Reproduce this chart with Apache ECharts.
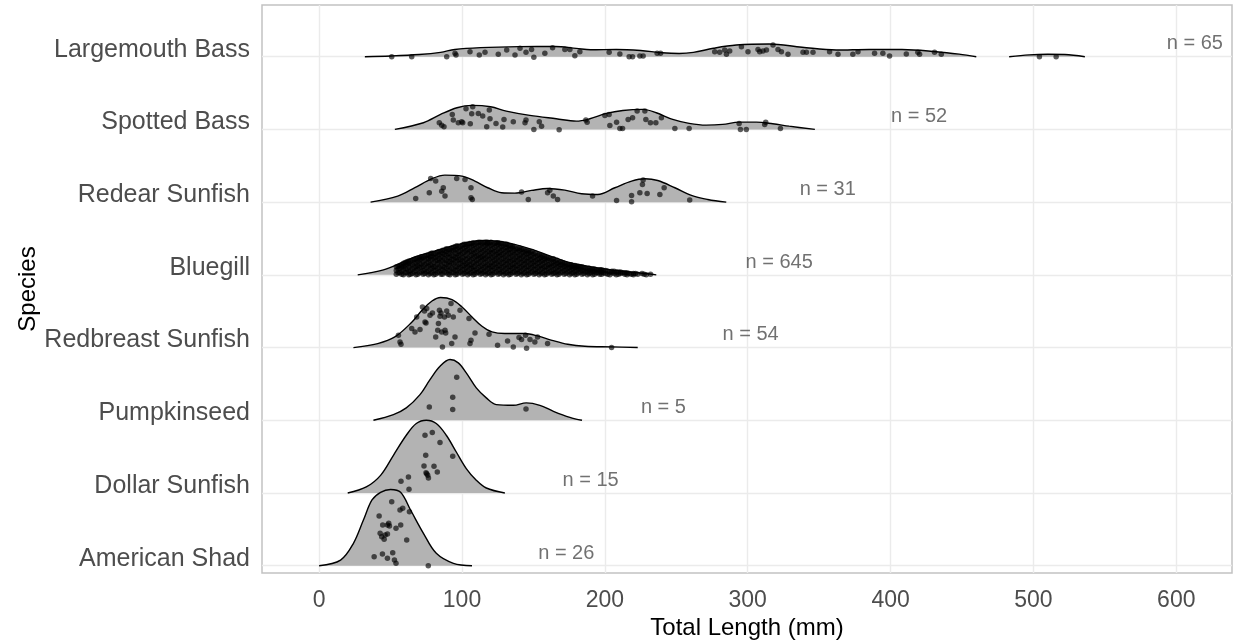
<!DOCTYPE html>
<html>
<head>
<meta charset="utf-8">
<title>Total Length by Species</title>
<script src="https://cdn.jsdelivr.net/npm/echarts@6/dist/echarts.min.js"></script>
<style>
  html, body { margin: 0; padding: 0; background: #fff; }
  #chart { width: 1238px; height: 642px; }
</style>
</head>
<body>
<div id="chart"></div>
<script>
// species, bottom row (1) to top row (8)
const species = ['American Shad', 'Dollar Sunfish', 'Pumpkinseed', 'Redbreast Sunfish',
                 'Bluegill', 'Redear Sunfish', 'Spotted Bass', 'Largemouth Bass'];
const lengthTicks = [0, 100, 200, 300, 400, 500, 600];
const rowTicks = [1, 2, 3, 4, 5, 6, 7, 8];
const countLabels = ['n = 26', 'n = 15', 'n = 5', 'n = 54', 'n = 645', 'n = 31', 'n = 52', 'n = 65'];
const countLabelX = [173, 190, 241, 302, 322, 356, 420, 613];

// density ridges: [total length, ridge height in rows]
const shadCurve = [[0,0],[15,0.078],[24,0.308],[31,0.628],[37,0.904],[43,1.01],[50,1.048],
  [57,1.01],[64,0.766],[73,0.446],[82,0.17],[94,0.033],[107,0]];
const dollarCurve = [[20,0],[33,0.083],[43,0.243],[52,0.519],[61,0.794],[68,0.955],[75,1.0],
  [82,0.955],[89,0.794],[96,0.564],[103,0.336],[110,0.175],[117,0.069],[130,0]];
const pumpkinCurve = [[38,0],[52,0.078],[61,0.17],[70.6,0.353],[77.6,0.56],[84.6,0.743],[91.6,0.835],
  [97.4,0.79],[103,0.652],[110,0.446],[117,0.308],[124,0.216],[136,0.206],[145,0.239],
  [154.5,0.206],[164,0.124],[175.5,0.041],[184,0]];
const redbreastCurve = [[24,0],[41,0.055],[53,0.146],[65,0.352],[72,0.513],[79,0.64],[85,0.688],
  [93,0.66],[100,0.558],[107,0.421],[114,0.293],[121,0.215],[130,0.193],[144,0.193],[153,0.16],
  [163,0.1],[174,0.045],[186,0.018],[205,0.01],[223,0]];
const bluegillCurve = [[27,0],[45,0.069],[57,0.161],[68,0.252],[80,0.321],[92,0.39],[103,0.444],
  [115,0.472],[126.6,0.458],[138,0.413],[150,0.344],[161.5,0.261],[173,0.183],[184.6,0.128],
  [196.5,0.092],[208,0.059],[222,0.032],[236,0]];
const redearCurve = [[36,0],[55,0.083],[67,0.198],[79,0.322],[88,0.371],[100,0.358],[109,0.289],
  [118,0.198],[127.7,0.129],[137,0.124],[148.7,0.161],[160,0.188],[172,0.165],[183.7,0.116],
  [195,0.106],[207,0.198],[218.7,0.289],[228,0.322],[237,0.298],[249,0.198],[260.6,0.092],
  [272,0.037],[285,0]];
const spottedCurve = [[53,0],[73,0.092],[85,0.206],[96.5,0.298],[107,0.33],[120,0.312],[131,0.252],
  [147.5,0.193],[166,0.147],[180,0.114],[189.5,0.147],[201,0.22],[212.6,0.261],[226.6,0.275],
  [236,0.229],[247.5,0.138],[259,0.083],[271,0.059],[282.5,0.069],[294,0.1],[306,0.1],
  [317.5,0.078],[329,0.045],[347,0]];
const largemouthCurve = [[32,0],[50,0.01],[70,0.03],[85,0.06],[95,0.1],[113,0.125],[140,0.138],
  [165,0.14],[180,0.115],[190,0.095],[208,0.1],[225,0.085],[240,0.055],[252,0.045],[262,0.06],
  [276,0.116],[292,0.16],[315,0.175],[338,0.13],[362,0.092],[385,0.1],[408,0.1],[432,0.069],
  [448,0.035],[460,0],[472,null],[483,0],[497,0.025],[510,0.033],[522,0.03],[536,0]];

// jittered fish: [total length, offset above the row baseline]
const shadPoints = [[50.8,0.88],[56.6,0.766],[58.5,0.789],[63.2,0.743],[42,0.684],[44.5,0.56],
  [47.8,0.56],[49.2,0.546],[57.1,0.56],[53.8,0.514],[42.7,0.446],[43.8,0.399],[45.5,0.363],
  [47.8,0.436],[61.3,0.353],[38.5,0.124],[44.3,0.161],[47.8,0.102],[51.5,0.179],[52.7,0.078],
  [53.8,0.033],[76.4,0],[48.7,0.583],[46.2,0.422]];
const dollarPoints = [[74.1,0.794],[79.2,0.831],[84.6,0.693],[74.6,0.519],[93.5,0.505],[73.4,0.371],
  [80.4,0.367],[82.7,0.289],[74.8,0.28],[76,0.243],[76.5,0.206],[57.3,0.161],[62.5,0.22],
  [62.9,0.051],[75.3,0.266]];
const pumpkinPoints = [[96.3,0.592],[93.5,0.316],[93.5,0.147],[77.1,0.184],[144.8,0.157]];
const redbreastPoints = [[55.5,0.169],[56.6,0.077],[57.3,0.045],[64.8,0.261],[67.1,0.215],
  [68.3,0.421],[70.6,0.248],[72.3,0.558],[73.7,0.503],[74.1,0.352],[74.8,0.338],[75.3,0.536],
  [77.6,0.444],[79.3,0.476],[81.6,0.146],[83,0.238],[83.5,0.33],[84.2,0.513],[84.6,0.43],
  [85.3,0.476],[85.8,0.215],[86.3,0.008],[87.7,0.421],[88.1,0.238],[88.6,0.2],[89.3,0.503],
  [90.4,0.444],[92.3,0.605],[92.8,0.055],[93.9,0.421],[95.1,0.146],[98.6,0.513],[104.9,0.399],
  [105.6,0.055],[106.3,0.1],[109.1,0.2],[118.9,0.183],[124.9,0.032],[131.9,0.091],[135.9,0.008],
  [139.9,0.138],[141.7,0.11],[144.5,0.169],[145.2,-0.01],[147.6,0.11],[151,0.077],[152.9,0.146],
  [159.9,0.055],[204.7,0]];
// bluegill cloud, read column by column: [length, [offsets]]
const bluegillColumns = [
  [54,[0.01,0.06,0.11]], [56.5,[0.03,0.09,0.13]], [59,[0.0,0.07,0.12,0.16]],
  [61.5,[0.03,0.08,0.15,0.18]], [64,[0.01,0.06,0.13,0.19]], [66.5,[0.04,0.10,0.17,0.21]],
  [69,[0.01,0.08,0.13,0.19,0.23]], [71.5,[0.04,0.10,0.15,0.22,0.25]], [74,[0.02,0.07,0.14,0.20,0.26]],
  [76.5,[0.0,0.05,0.12,0.17,0.22,0.27]], [79,[0.03,0.09,0.14,0.21,0.26,0.30]],
  [81.5,[0.01,0.06,0.12,0.19,0.24,0.29]], [84,[0.04,0.10,0.17,0.22,0.28,0.32]],
  [86.5,[0.01,0.07,0.12,0.19,0.25,0.30,0.34]], [89,[0.03,0.09,0.15,0.20,0.27,0.32,0.36]],
  [91.5,[0.0,0.06,0.13,0.18,0.24,0.30,0.35]], [94,[0.03,0.08,0.15,0.21,0.26,0.33,0.38]],
  [96.5,[0.01,0.06,0.12,0.19,0.24,0.29,0.36,0.40]], [99,[0.04,0.10,0.16,0.21,0.28,0.34,0.39]],
  [101.5,[0.02,0.07,0.13,0.18,0.25,0.31,0.37,0.42]], [104,[0.0,0.05,0.11,0.17,0.23,0.30,0.35,0.41]],
  [106.5,[0.03,0.09,0.14,0.21,0.27,0.32,0.39,0.43]], [109,[0.01,0.06,0.12,0.18,0.25,0.30,0.36,0.42]],
  [111.5,[0.04,0.10,0.16,0.22,0.27,0.34,0.40,0.45]], [114,[0.02,0.07,0.13,0.20,0.25,0.31,0.37,0.43]],
  [116.5,[0.0,0.05,0.11,0.17,0.23,0.29,0.35,0.41,0.45]], [119,[0.03,0.09,0.14,0.21,0.27,0.32,0.39,0.44]],
  [121.5,[0.01,0.06,0.12,0.18,0.24,0.30,0.36,0.42]], [124,[0.04,0.10,0.16,0.22,0.28,0.33,0.40,0.44]],
  [126.5,[0.02,0.07,0.13,0.19,0.26,0.31,0.37,0.43]], [129,[0.0,0.05,0.11,0.17,0.23,0.29,0.35,0.41]],
  [131.5,[0.03,0.09,0.15,0.20,0.27,0.33,0.38,0.42]], [134,[0.01,0.06,0.12,0.18,0.24,0.30,0.36,0.40]],
  [136.5,[0.04,0.10,0.16,0.21,0.28,0.34,0.39]], [139,[0.02,0.07,0.13,0.19,0.25,0.31,0.36]],
  [141.5,[0.0,0.05,0.11,0.17,0.23,0.29,0.35]], [144,[0.03,0.09,0.15,0.20,0.27,0.33]],
  [146.5,[0.01,0.06,0.12,0.18,0.24,0.30,0.33]], [149,[0.04,0.10,0.16,0.21,0.28,0.32]],
  [151.5,[0.02,0.07,0.13,0.19,0.25,0.30]], [154,[0.0,0.05,0.11,0.17,0.22,0.28]],
  [156.5,[0.03,0.09,0.15,0.20,0.26]], [159,[0.01,0.06,0.12,0.18,0.24]],
  [161.5,[0.04,0.10,0.15,0.22]], [164,[0.02,0.07,0.13,0.18,0.22]], [166.5,[0.0,0.05,0.11,0.16,0.20]],
  [169,[0.03,0.09,0.14,0.18]], [171.5,[0.01,0.06,0.12,0.16]], [174,[0.04,0.09,0.14]],
  [176.5,[0.02,0.07,0.11,0.14]], [179,[0.0,0.05,0.10,0.13]], [181.5,[0.03,0.08,0.12]],
  [184,[0.01,0.06,0.11]], [186.5,[0.04,0.09]], [189,[0.02,0.06,0.09]], [191.5,[0.0,0.05,0.08]],
  [194,[0.03,0.07]], [196.5,[0.01,0.05,0.07]], [199,[0.03,0.06]], [202,[0.01,0.05]],
  [205,[0.03,0.05]], [208,[0.0,0.04]], [211,[0.02,0.04]], [214,[0.01,0.03]], [217,[0.02]],
  [220,[0.0,0.02]], [223,[0.01]], [226,[0.02]], [229,[0.0]], [232,[0.01]],
  [55.3,[0.03,0.08,0.12]], [57.8,[0.01,0.05,0.11,0.14]], [60.3,[0.03,0.09,0.14,0.17]],
  [62.8,[0.0,0.05,0.11,0.16,0.19]], [65.3,[0.02,0.08,0.14,0.20]], [67.8,[0.0,0.06,0.11,0.16,0.22]],
  [70.3,[0.03,0.10,0.16,0.21,0.24]], [72.8,[0.01,0.06,0.12,0.18,0.24]], [75.3,[0.04,0.10,0.16,0.23,0.27]],
  [77.8,[0.02,0.08,0.14,0.20,0.25,0.29]], [80.3,[0.0,0.06,0.11,0.17,0.24,0.29]],
  [82.8,[0.03,0.09,0.15,0.20,0.26,0.31]], [85.3,[0.01,0.06,0.13,0.19,0.25,0.31]],
  [87.8,[0.04,0.10,0.16,0.22,0.28,0.33]], [90.3,[0.01,0.06,0.12,0.18,0.24,0.29,0.35]],
  [92.8,[0.03,0.09,0.16,0.21,0.27,0.33,0.37]], [95.3,[0.0,0.06,0.12,0.18,0.24,0.30,0.35,0.39]],
  [97.8,[0.03,0.09,0.15,0.21,0.27,0.32,0.38]], [100.3,[0.01,0.07,0.13,0.19,0.24,0.30,0.36,0.41]],
  [102.8,[0.04,0.10,0.15,0.21,0.27,0.33,0.39,0.42]], [105.3,[0.02,0.08,0.14,0.19,0.25,0.32,0.38,0.43]],
  [107.8,[0.0,0.06,0.11,0.17,0.23,0.29,0.35,0.41,0.44]], [110.3,[0.03,0.08,0.15,0.20,0.26,0.32,0.38,0.44]],
  [112.8,[0.01,0.06,0.12,0.18,0.24,0.29,0.35,0.41,0.45]], [115.3,[0.04,0.10,0.16,0.22,0.27,0.33,0.39,0.44]],
  [117.8,[0.02,0.08,0.14,0.20,0.26,0.32,0.38,0.43,0.45]], [120.3,[0.0,0.06,0.12,0.17,0.24,0.30,0.35,0.41,0.45]],
  [122.8,[0.03,0.09,0.15,0.20,0.26,0.32,0.38,0.43]], [125.3,[0.01,0.07,0.13,0.19,0.25,0.30,0.36,0.42,0.44]],
  [127.8,[0.04,0.10,0.16,0.22,0.28,0.34,0.39,0.43]], [130.3,[0.02,0.08,0.14,0.20,0.26,0.32,0.38,0.42]],
  [132.8,[0.0,0.06,0.12,0.18,0.24,0.30,0.35,0.40]], [135.3,[0.03,0.09,0.14,0.20,0.26,0.31,0.37,0.39]],
  [137.8,[0.01,0.07,0.13,0.19,0.25,0.31,0.36]], [140.3,[0.04,0.10,0.16,0.22,0.27,0.33,0.37]],
  [142.8,[0.02,0.08,0.14,0.20,0.26,0.31,0.35]], [145.3,[0.0,0.06,0.12,0.18,0.24,0.29,0.33]],
  [147.8,[0.03,0.09,0.15,0.21,0.26,0.31]], [150.3,[0.01,0.07,0.13,0.18,0.24,0.29]],
  [152.8,[0.04,0.10,0.16,0.21,0.27]], [155.3,[0.02,0.08,0.13,0.19,0.24,0.27]],
  [157.8,[0.0,0.06,0.11,0.17,0.22,0.25]], [160.3,[0.03,0.09,0.14,0.20,0.23]],
  [162.8,[0.01,0.05,0.11,0.16,0.21]], [165.3,[0.03,0.08,0.14,0.19]], [167.8,[0.01,0.06,0.12,0.17]],
  [170.3,[0.04,0.09,0.14,0.17]], [172.8,[0.02,0.07,0.12,0.15]], [175.3,[0.0,0.05,0.10,0.14]],
  [177.8,[0.03,0.08,0.12]], [180.3,[0.01,0.06,0.10,0.12]], [182.8,[0.04,0.08,0.11]],
  [185.3,[0.02,0.06,0.10]], [187.8,[0.0,0.04,0.08]], [190.3,[0.03,0.07]], [192.8,[0.01,0.05,0.08]],
  [195.3,[0.03,0.06]], [197.8,[0.01,0.04,0.07]], [200.5,[0.02,0.06]], [203.5,[0.0,0.04]],
  [206.5,[0.02,0.05]], [209.5,[0.01,0.04]], [212.5,[0.03]], [215.5,[0.0,0.03]], [218.5,[0.01]],
  [221.5,[0.02]], [227.5,[0.01]]
];
const bluegillPoints = [];
bluegillColumns.forEach(function (c) {
  c[1].forEach(function (o) { bluegillPoints.push([c[0], o]); });
});
const redearPoints = [[67.6,0.051],[77.1,0.129],[81.6,0.289],[85.8,0.151],[86.9,0.198],[88.1,0.083],
  [96.3,0.326],[102.1,0.312],[106.3,0.198],[106.3,0.06],[107.2,0.037],[141.7,0.138],[146.4,0.037],
  [159.9,0.129],[161.5,0.165],[163.9,0.083],[166.9,0.037],[191.4,0.083],[208.2,0.023],
  [218.7,0.092],[218.7,0.005],[224.5,0.129],[226.8,0.303],[226.3,0.243],[229.6,0.12],
  [238.5,0.106],[241.5,0.198],[259.4,0.028],[78.1,0.326]];
const spottedPoints = [[84.1,0.092],[85.8,0.059],[87.4,0.037],[93.2,0.206],[93.9,0.128],[97.4,0.092],
  [99.8,0.106],[100.5,0.092],[102.8,0.284],[105.8,0.078],[106.8,0.216],[107.5,0.312],[111.4,0.22],
  [114.5,0.183],[117.3,0.037],[119.1,0.266],[119.6,0.147],[123.8,0.083],[128.5,0.032],[129.4,0.138],
  [135.9,0.106],[144.1,0.092],[144.8,0.128],[150.3,0],[154.1,0.106],[155.7,0.045],[168,-0.005],
  [186.7,0.128],[187.6,0.1],[200,0.193],[203,0.206],[203.5,0.055],[208.2,0.1],[210.5,0.014],
  [212.4,0.014],[216.3,0.138],[219.4,0.161],[222.6,0.252],[228,0.252],[228.7,0.138],[231.9,0.092],
  [235.7,0.092],[239.6,0.161],[249,0.014],[259,0.014],[294,0.083],[294.9,0],[299,0],[311.9,0.069],
  [312.6,0.1],[322.9,0.014]];
const largemouthPoints = [[50.8,0],[64.8,0],[89.3,0],[95.1,0.047],[95.8,0.023],[105.6,0.069],
  [112.1,0.023],[116.1,0.06],[125.4,0.033],[131.3,0.092],[137.1,0.023],[140.6,0.115],[144.8,0.06],
  [148.7,0.1],[150.3,-0.008],[158,0.047],[163.4,0.124],[172,0.1],[175.5,0.1],[179,0.014],
  [182.5,0.069],[203,0.06],[210.5,0.037],[217,0],[219.4,0],[224.5,0.01],[226.8,0.01],[236.6,0.047],
  [239,0.047],[276.9,0.069],[280.4,0.06],[283.9,0.092],[285.1,0.033],[287.4,0.078],[295.6,0.138],
  [300.2,0.069],[307.2,0.1],[308.4,0.069],[310.7,0.078],[313.1,0.092],[317.7,0.161],[321.2,0.1],
  [323.6,0.069],[328.2,0.033],[338.7,0.06],[341.1,0.06],[345.7,0.06],[357.3,0.069],[363.2,0.033],
  [373.6,0.033],[377.2,0.069],[388.8,0.047],[394.6,0.047],[399.3,0.01],[411,0.037],[419.1,0.06],
  [420.3,0.033],[430.8,0.06],[435.5,0.033],[504.2,0],[515.9,0]];

const curves = [shadCurve, dollarCurve, pumpkinCurve, redbreastCurve, bluegillCurve,
                redearCurve, spottedCurve, largemouthCurve];
const points = [shadPoints, dollarPoints, pumpkinPoints, redbreastPoints, bluegillPoints,
                redearPoints, spottedPoints, largemouthPoints];

const series = [];
// top row first so lower ridges overlap the ones above
for (let i = species.length - 1; i >= 0; i--) {
  const base = i + 1;
  const k = species.length - 1 - i;
  series.push({
    name: species[i],
    type: 'line',
    data: curves[i].map(p => p[1] == null ? [p[0], '-'] : [p[0], base + p[1]]),
    smooth: 0.35,
    symbol: 'none',
    connectNulls: false,
    lineStyle: { color: '#000', width: 1.4 },
    areaStyle: { color: '#b3b3b3', opacity: 1, origin: base },
    z: 10 + k * 2,
    silent: true
  });
  series.push({
    name: species[i] + ' fish',
    type: 'scatter',
    data: points[i].map(p => [p[0], base + p[1]]),
    symbolSize: 5.5,
    itemStyle: { color: 'rgba(0,0,0,0.8)' },
    z: 11 + k * 2,
    silent: true
  });
}
series.push({
  type: 'scatter',
  data: countLabelX.map((x, i) => ({ value: [x, i + 1 + 0.175], name: countLabels[i] })),
  symbolSize: 0,
  label: {
    show: true, position: 'inside', formatter: '{b}',
    fontSize: 20, color: '#4d4d4d', fontFamily: 'Liberation Sans'
  },
  z: 40,
  silent: true
});

const chart = echarts.init(document.getElementById('chart'));
chart.setOption({
  animation: false,
  textStyle: { fontFamily: 'Liberation Sans' },
  grid: {
    left: 262, right: 6, top: 5, bottom: 69,
    outerBoundsMode: 'none',
    containLabel: false,
    show: true, borderColor: '#c2c2c2', borderWidth: 1.5
  },
  xAxis: {
    type: 'value',
    min: -40,
    max: 639,
    name: 'Total Length (mm)',
    nameLocation: 'middle',
    nameGap: 43,
    nameMoveOverlap: false,
    nameTextStyle: { fontSize: 24, color: '#000' },
    axisLine: { show: false },
    axisTick: { show: false, customValues: lengthTicks },
    axisLabel: { customValues: lengthTicks, fontSize: 23, color: '#4d4d4d', margin: 16 },
    splitLine: { lineStyle: { color: '#ebebeb', width: 1.4 } }
  },
  yAxis: {
    type: 'value',
    min: 0.9,
    max: 8.711,
    name: 'Species',
    nameLocation: 'middle',
    nameGap: 222,
    nameMoveOverlap: false,
    nameTextStyle: { fontSize: 24, color: '#000' },
    axisLine: { show: false },
    axisTick: { show: false, customValues: rowTicks },
    axisLabel: {
      customValues: rowTicks,
      formatter: v => species[Math.round(v) - 1],
      fontSize: 25, color: '#4d4d4d', margin: 12,
      verticalAlign: 'bottom', lineHeight: 14
    },
    splitLine: { lineStyle: { color: '#ebebeb', width: 1.4 } }
  },
  series: series
});
</script>
</body>
</html>
